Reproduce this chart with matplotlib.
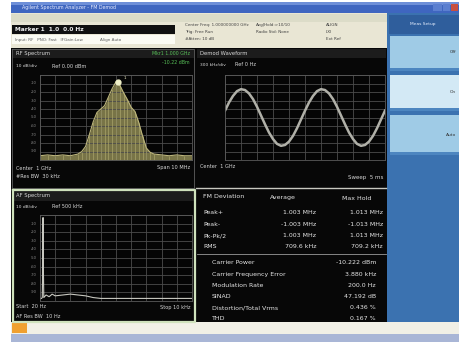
import numpy as np
import matplotlib.pyplot as plt
from matplotlib.patches import Rectangle

W, H = 461, 342

# RF spectrum trace (offset from 1 GHz in MHz, level in dBm)
rf_freq = [-5.0, -4.5, -4.0, -3.5, -3.0, -2.5, -2.25, -2.0, -1.75, -1.5, -1.25, -1.0,
           -0.75, -0.5, -0.25, 0.0, 0.25, 0.5, 0.75, 1.0, 1.25, 1.5, 1.75, 2.0,
           2.25, 2.5, 3.0, 3.5, 4.0, 4.5, 5.0]
rf_level = [-95, -94, -95, -94, -95, -93, -90, -84, -70, -55, -44, -40,
            -36, -26, -16, -8, -12, -21, -29, -38, -43, -56, -72, -86,
            -91, -93, -94, -95, -94, -95, -95]
marker_freq, marker_level = 0.1, -8

# demodulated FM waveform (time ms, deviation MHz)
demod_t = [0.0, 0.25, 0.5, 0.75, 1.0, 1.25, 1.5, 1.75, 2.0, 2.25, 2.5, 2.75, 3.0, 3.25,
           3.5, 3.75, 4.0, 4.25, 4.5, 4.75, 5.0, 5.25, 5.5, 5.75, 6.0, 6.25, 6.5, 6.75,
           7.0, 7.25, 7.5, 7.75, 8.0, 8.25, 8.5, 8.75, 9.0, 9.25, 9.5, 9.75, 10.0]
demod_dev = [0.24, 0.53, 0.76, 0.93, 1.00, 0.97, 0.85, 0.65, 0.38, 0.07, -0.24, -0.53,
             -0.76, -0.93, -1.00, -0.97, -0.85, -0.65, -0.38, -0.07, 0.24, 0.53, 0.76,
             0.93, 1.00, 0.97, 0.85, 0.65, 0.38, 0.07, -0.24, -0.53, -0.76, -0.93,
             -1.00, -0.97, -0.85, -0.65, -0.38, -0.07, 0.24]

# AF spectrum (kHz, dB)
af_freq = [0.02, 0.1, 0.15, 0.18, 0.2, 0.22, 0.25, 0.4, 0.6, 0.8, 1.0, 1.5, 2.0,
           2.5, 3.0, 3.5, 4.0, 5.0, 6.0, 7.0, 8.0, 9.0, 10.0]
af_level = [-97, -97, -96, -60, -3, -60, -96, -93, -95, -92, -94, -93, -92,
            -93, -94, -96, -97, -97, -97, -97, -97, -97, -97]

fm_rows = ['Peak+', 'Peak-', 'Pk-Pk/2', 'RMS']
fm_avg = ['1.003 MHz', '-1.003 MHz', '1.003 MHz', '709.6 kHz']
fm_max = ['1.013 MHz', '-1.013 MHz', '1.013 MHz', '709.2 kHz']
summary_rows = ['Carrier Power', 'Carrier Frequency Error', 'Modulation Rate',
                'SINAD', 'Distortion/Total Vrms', 'THD']
summary_vals = ['-10.222 dBm', '3.880 kHz', '200.0 Hz', '47.192 dB', '0.436 %', '0.167 %']

fig = plt.figure(figsize=(W / 100, H / 100), dpi=100)
bg = fig.add_axes([0, 0, 1, 1])
bg.set_xlim(0, W)
bg.set_ylim(H, 0)
bg.axis('off')


def box(x0, y0, x1, y1, color, **kw):
    bg.add_patch(Rectangle((x0, y0), x1 - x0, y1 - y0, facecolor=color, edgecolor='none', **kw))


def txt(x, y, s, color='#d8d8d8', size=3.6, ha='left', **kw):
    bg.text(x, y, s, color=color, fontsize=size, ha=ha, va='center', **kw)


# window chrome
box(11, 2, 459, 13, '#3f66c0')
box(11, 2, 459, 5, '#6e8fd8')
txt(22, 8, 'Agilent Spectrum Analyzer - FM Demod', color='#e8ecff', size=3.4)
box(433, 4, 442, 11, '#5b7fd0')
box(443, 4, 450, 11, '#5b7fd0')
box(451, 4, 458, 11, '#c85040')
box(11, 13, 387, 48, '#e9e6d4')
box(11, 14, 387, 22, '#dcdcc8')
box(12, 25, 175, 34, '#101010')
txt(15, 29.5, 'Marker 1  1.0  0.0 Hz', color='#f0f0f0', size=4.2, weight='bold')
box(12, 35, 175, 44, '#fbfbf3')
txt(15, 39.5, 'Input: RF   PNO: Fast   IFGain:Low', color='#606060', size=3)
txt(100, 39.5, 'Align Auto', color='#606060', size=3)
for i, line in enumerate(['Center Freq: 1.000000000 GHz', 'Trig: Free Run', '#Atten: 10 dB']):
    txt(185, 25 + 7 * i, line, color='#404040', size=3)
for i, line in enumerate(['Avg|Hold:>10/10', 'Radio Std: None']):
    txt(256, 25 + 7 * i, line, color='#404040', size=3)
for i, line in enumerate(['ALIGN', 'LXI', 'Ext Ref']):
    txt(326, 25 + 7 * i, line, color='#404040', size=3)

# screen
box(11, 48, 387, 322, '#070707')
box(12, 49, 194, 58, '#1c1c1c')
box(197, 49, 386, 58, '#1c1c1c')
box(13, 191, 194, 201, '#1c1c1c')

# right softkey panel
box(387, 13, 459, 322, '#3b72b0')
box(389, 15, 459, 34, '#2f5e9c')
txt(423, 24, 'Meas Setup', color='#e8f0ff', size=3.2, ha='center')
for y0, y1, c in [(36, 68, '#9fcbe6'), (75, 108, '#d3e9f5'), (115, 152, '#9fcbe6')]:
    box(390, y0, 459, y1, c)
    box(390, y1, 459, y1 + 3, '#4d86c0')
txt(456, 52, 'Off', color='#303030', size=3.2, ha='right')
txt(456, 92, 'On', color='#303030', size=3.2, ha='right')
txt(456, 135, 'Auto', color='#303030', size=3.2, ha='right')

# status bar
box(11, 322, 459, 334, '#f1f0e6')
box(12, 323, 27, 333, '#f0a030')
box(11, 334, 459, 342, '#a9b6d6')

# window borders
bg.plot([12, 194, 194, 12, 12], [48.5, 48.5, 188, 188, 48.5], color='#606060', lw=0.6)
bg.plot([196, 386], [187.5, 187.5], color='#c8c8c0', lw=1.0)
bg.plot([12.5, 195, 195, 12.5, 12.5], [189.5, 189.5, 321.5, 321.5, 189.5], color='#cfe2bc', lw=1.6)


def grid_axes(x0, y0, x1, y1):
    ax = fig.add_axes([x0 / W, 1 - y1 / H, (x1 - x0) / W, (y1 - y0) / H])
    ax.set_facecolor('#050505')
    for s in ax.spines.values():
        s.set_color('#5a5a5a')
        s.set_linewidth(0.6)
    ax.tick_params(length=0, labelbottom=False, labelleft=False)
    return ax


# RF spectrum
ax1 = grid_axes(40, 75, 192, 160)
ax1.set_xlim(-5, 5)
ax1.set_ylim(-100, 0)
ax1.set_xticks(np.linspace(-5, 5, 11))
ax1.set_yticks(np.linspace(-100, 0, 11))
ax1.grid(color='#4c4c4c', lw=0.6)
ax1.fill_between(rf_freq, rf_level, -100, color='#85814f', alpha=0.9, lw=0)
ax1.vlines(rf_freq, -100, rf_level, color='#a8a36a', lw=0.5)
ax1.plot(rf_freq, rf_level, color='#bdb67c', lw=0.8)
ax1.plot(marker_freq, marker_level, 'o', ms=3.5, color='#f0f0c8')
ax1.text(marker_freq + 0.4, marker_level + 3, '1', color='#f0f0c8', fontsize=3)
txt(16, 53.5, 'RF Spectrum', size=3.8)
txt(190, 53.5, 'Mkr1 1.000 GHz', color='#58c058', size=3.4, ha='right')
txt(190, 62, '-10.22 dBm', color='#58c058', size=3.4, ha='right')
txt(16, 66, '10 dB/div', size=3.2)
txt(52, 66, 'Ref 0.00 dBm', size=3.6)
for i, v in enumerate(range(-10, -100, -10)):
    txt(37, 75 + 8.5 * (i + 1), str(v), color='#8a8a8a', size=2.6, ha='right')
txt(16, 168, 'Center  1 GHz', size=3.6)
txt(190, 168, 'Span 10 MHz', size=3.6, ha='right')
txt(16, 177, '#Res BW  30 kHz', size=3.6)

# demod waveform
ax2 = grid_axes(225, 75, 385, 160)
ax2.set_xlim(0, 10)
ax2.set_ylim(-1.5, 1.5)
ax2.set_xticks(np.linspace(0, 10, 11))
ax2.set_yticks(np.linspace(-1.5, 1.5, 11))
ax2.grid(color='#4c4c4c', lw=0.6)
ax2.plot(demod_t, demod_dev, color='#b0b0a8', lw=1.8)
txt(200, 53.5, 'Demod Waveform', size=3.8)
txt(200, 65, '300 kHz/div', size=3.2)
txt(235, 65, 'Ref 0 Hz', size=3.6)
txt(200, 167, 'Center  1 GHz', size=3.6)
txt(383, 177, 'Sweep  5 ms', size=4, ha='right')

# AF spectrum
ax3 = grid_axes(40, 215, 192, 301)
ax3.set_xlim(0, 10)
ax3.set_ylim(-100, 0)
ax3.set_xticks(np.linspace(0, 10, 11))
ax3.set_yticks(np.linspace(-100, 0, 11))
ax3.grid(color='#4c4c4c', lw=0.6)
ax3.plot(af_freq, af_level, color='#c8c8c0', lw=0.8)
txt(16, 196, 'AF Spectrum', size=3.8)
txt(16, 207, '10 dB/div', size=3.2)
txt(52, 207, 'Ref 500 kHz', size=3.6)
for i, v in enumerate(range(-10, -100, -10)):
    txt(37, 215 + 8.6 * (i + 1), str(v), color='#8a8a8a', size=2.6, ha='right')
txt(16, 307, 'Start  20 Hz', size=3.6)
txt(190, 307, 'Stop 10 kHz', size=3.6, ha='right')
txt(16, 316, 'AF Res BW  10 Hz', size=3.6)

# FM deviation table
tw = dict(size=4.5, color='#e6e6e6')
txt(203, 197, 'FM Deviation', **tw)
txt(283, 198, 'Average', ha='center', **tw)
txt(357, 198, 'Max Hold', ha='center', **tw)
for i, (lab, a, m) in enumerate(zip(fm_rows, fm_avg, fm_max)):
    y = 213 + 11.3 * i
    txt(203, y, lab, **tw)
    txt(316, y, a, ha='right', **tw)
    txt(383, y, m, ha='right', **tw)
bg.plot([197, 386], [254, 254], color='#9a9a9a', lw=0.6)
for i, (lab, v) in enumerate(zip(summary_rows, summary_vals)):
    y = 263 + 11.2 * i
    txt(212, y, lab, **tw)
    txt(376, y, v, ha='right', **tw)

fig.savefig('out.png', dpi=100)
